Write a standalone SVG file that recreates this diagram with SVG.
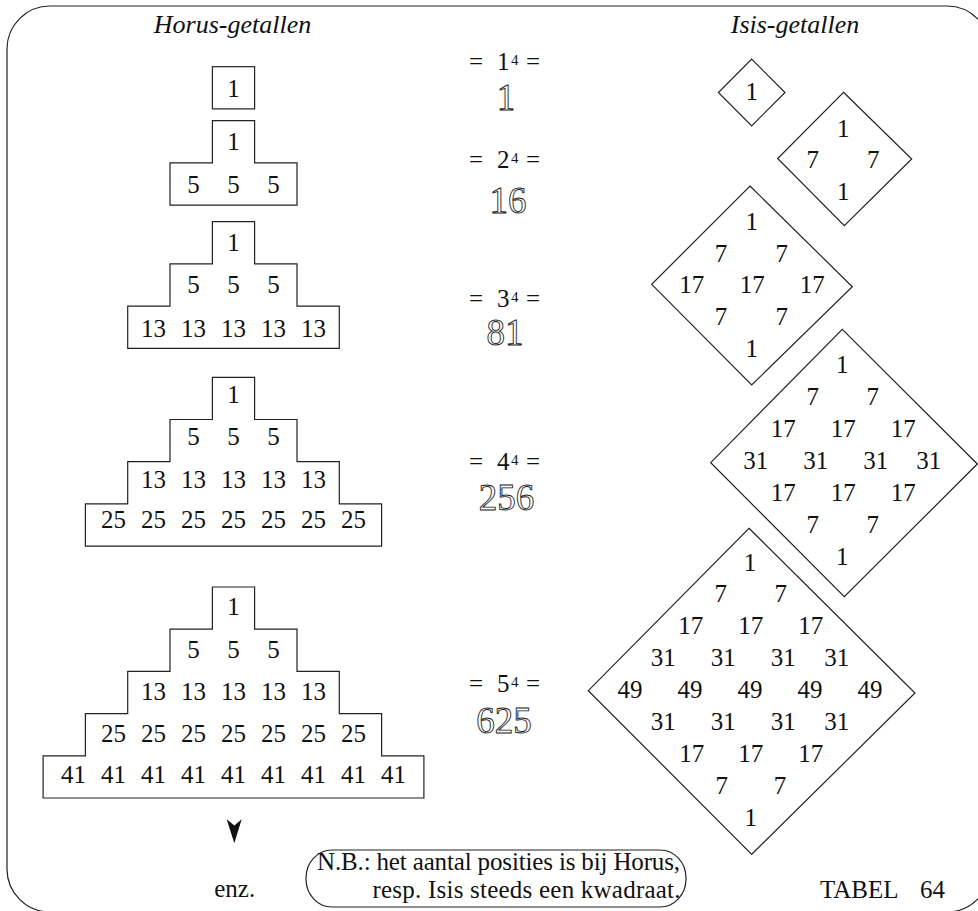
<svg xmlns="http://www.w3.org/2000/svg" width="978" height="911" viewBox="0 0 978 911">
<style>
.ln{fill:none;stroke:#222;stroke-width:1.2}
.t{font-family:"Liberation Serif","Times New Roman",serif;font-size:25px;fill:#111}
.c{text-anchor:middle}
.it{font-style:italic;font-size:26px}
.o{font-family:"Liberation Serif","Times New Roman",serif;font-size:37px;fill:#fff;stroke:#222;stroke-width:0.9;text-anchor:middle}
.sup{font-size:15px}
</style>
<rect id="frame" class="ln" x="7" y="6" width="983" height="906" rx="43" ry="43"/>
<g id="titles">
<text class="t it c" x="232.5" y="33">Horus-getallen</text>
<text class="t it c" x="795" y="33">Isis-getallen</text>
</g>
<g id="horus1">
<rect class="ln" x="212.4" y="66.7" width="42.2" height="42.2"/>
<text class="t c" x="233.5" y="96.7">1</text>
</g>
<g id="horus2">
<path class="ln" d="M212.4,120.7 H254.6 V162.9 H297 V205.1 H170 V162.9 H212.4 Z"/>
<g class="t c">
<text x="233.5" y="150">1</text>
<text x="193.5" y="193.3">5</text><text x="233.5" y="193.3">5</text><text x="273.5" y="193.3">5</text>
</g>
</g>
<g id="horus3">
<path class="ln" d="M212.4,221.7 H254.6 V263.9 H297 V306.1 H339.3 V348.3 H127.7 V306.1 H170 V263.9 H212.4 Z"/>
<g class="t c">
<text x="233.5" y="251">1</text>
<text x="193.5" y="293.3">5</text><text x="233.5" y="293.3">5</text><text x="273.5" y="293.3">5</text>
<text x="153.5" y="336.7">13</text><text x="193.5" y="336.7">13</text><text x="233.5" y="336.7">13</text><text x="273.5" y="336.7">13</text><text x="313.5" y="336.7">13</text>
</g>
</g>
<g id="horus4">
<path class="ln" d="M212.4,377.3 H254.6 V419.5 H297 V461.7 H339.3 V503.9 H381.6 V546.1 H85.4 V503.9 H127.7 V461.7 H170 V419.5 H212.4 Z"/>
<g class="t c">
<text x="233.5" y="403.3">1</text>
<text x="193.5" y="445">5</text><text x="233.5" y="445">5</text><text x="273.5" y="445">5</text>
<text x="153.5" y="488.3">13</text><text x="193.5" y="488.3">13</text><text x="233.5" y="488.3">13</text><text x="273.5" y="488.3">13</text><text x="313.5" y="488.3">13</text>
<text x="113.5" y="528.3">25</text><text x="153.5" y="528.3">25</text><text x="193.5" y="528.3">25</text><text x="233.5" y="528.3">25</text><text x="273.5" y="528.3">25</text><text x="313.5" y="528.3">25</text><text x="353.5" y="528.3">25</text>
</g>
</g>
<g id="horus5">
<path class="ln" d="M212.4,587 H254.6 V629.2 H297 V671.4 H339.3 V713.6 H381.6 V755.8 H423.9 V798 H43.1 V755.8 H85.4 V713.6 H127.7 V671.4 H170 V629.2 H212.4 Z"/>
<g class="t c">
<text x="233.5" y="615">1</text>
<text x="193.5" y="658.3">5</text><text x="233.5" y="658.3">5</text><text x="273.5" y="658.3">5</text>
<text x="153.5" y="700">13</text><text x="193.5" y="700">13</text><text x="233.5" y="700">13</text><text x="273.5" y="700">13</text><text x="313.5" y="700">13</text>
<text x="113.5" y="741.7">25</text><text x="153.5" y="741.7">25</text><text x="193.5" y="741.7">25</text><text x="233.5" y="741.7">25</text><text x="273.5" y="741.7">25</text><text x="313.5" y="741.7">25</text><text x="353.5" y="741.7">25</text>
<text x="73.5" y="783.3">41</text><text x="113.5" y="783.3">41</text><text x="153.5" y="783.3">41</text><text x="193.5" y="783.3">41</text><text x="233.5" y="783.3">41</text><text x="273.5" y="783.3">41</text><text x="313.5" y="783.3">41</text><text x="353.5" y="783.3">41</text><text x="393.5" y="783.3">41</text>
</g>
</g>
<g id="connectors">
<path d="M226.7,819.3 L234.3,825.5 L241.7,819.3 L234.3,843.3 Z" fill="#111"/>
</g>
<text id="enz" class="t c" x="234.7" y="896.7">enz.</text>
<g id="eq1">
<text class="t"><tspan x="469" y="70">=</tspan><tspan x="497" y="70">1</tspan><tspan class="sup" x="511" y="65">4</tspan><tspan x="526" y="70">=</tspan></text>
<text class="o" x="506" y="110">1</text>
</g>
<g id="eq2">
<text class="t"><tspan x="469" y="168.3">=</tspan><tspan x="497" y="168.3">2</tspan><tspan class="sup" x="511" y="163.3">4</tspan><tspan x="526" y="168.3">=</tspan></text>
<text class="o" x="508" y="212.7">16</text>
</g>
<g id="eq3">
<text class="t"><tspan x="469" y="306.7">=</tspan><tspan x="497" y="306.7">3</tspan><tspan class="sup" x="511" y="301.7">4</tspan><tspan x="526" y="306.7">=</tspan></text>
<text class="o" x="505" y="345">81</text>
</g>
<g id="eq4">
<text class="t"><tspan x="469" y="470">=</tspan><tspan x="497" y="470">4</tspan><tspan class="sup" x="511" y="465">4</tspan><tspan x="526" y="470">=</tspan></text>
<text class="o" x="506.5" y="510">256</text>
</g>
<g id="eq5">
<text class="t"><tspan x="469" y="691.7">=</tspan><tspan x="497" y="691.7">5</tspan><tspan class="sup" x="511" y="686.7">4</tspan><tspan x="526" y="691.7">=</tspan></text>
<text class="o" x="504" y="733">625</text>
</g>
<g id="isis1">
<polygon class="ln" points="751.7,59.2 785,92.5 751.7,125.8 718.4,92.5"/>
<text class="t c" x="751.7" y="100">1</text>
</g>
<g id="isis2">
<polygon class="ln" points="843.5,92.3 911.7,159 844.3,225.7 777.7,158.5"/>
<g class="t c">
<text x="843.3" y="136.7">1</text>
<text x="812.7" y="168.3">7</text><text x="873.3" y="168.3">7</text>
<text x="843.3" y="200">1</text>
</g>
</g>
<g id="isis3">
<polygon class="ln" points="750,186 852.3,286.7 751.7,385 651.7,284.3"/>
<g class="t c">
<text x="751.7" y="230">1</text>
<text x="721" y="261.7">7</text><text x="781.7" y="261.7">7</text>
<text x="691.7" y="293.3">17</text><text x="752.3" y="293.3">17</text><text x="812.3" y="293.3">17</text>
<text x="721" y="325">7</text><text x="781.7" y="325">7</text>
<text x="751.7" y="356.7">1</text>
</g>
</g>
<g id="isis4">
<polygon class="ln" points="842.3,329.3 977.3,464 844.3,596.7 710.7,462.7"/>
<g class="t c">
<text x="842.3" y="373">1</text>
<text x="812.7" y="405">7</text><text x="872.7" y="405">7</text>
<text x="783.3" y="437">17</text><text x="843.3" y="437">17</text><text x="903.3" y="437">17</text>
<text x="755.7" y="469">31</text><text x="815.7" y="469">31</text><text x="875.7" y="469">31</text><text x="928.7" y="469">31</text>
<text x="783.3" y="501">17</text><text x="843.3" y="501">17</text><text x="903.3" y="501">17</text>
<text x="812.7" y="533.3">7</text><text x="872.7" y="533.3">7</text>
<text x="842.3" y="565.3">1</text>
</g>
</g>
<g id="isis5">
<polygon class="ln" points="749,528.3 915,693 751.7,854.3 588.3,690.7"/>
<g class="t c">
<text x="750" y="570.5">1</text>
<text x="720.7" y="602">7</text><text x="780.7" y="602">7</text>
<text x="690.7" y="634">17</text><text x="750.7" y="634">17</text><text x="810.7" y="634">17</text>
<text x="663.3" y="666">31</text><text x="723.3" y="666">31</text><text x="783.3" y="666">31</text><text x="836.7" y="666">31</text>
<text x="630" y="698">49</text><text x="690" y="698">49</text><text x="750" y="698">49</text><text x="810" y="698">49</text><text x="870" y="698">49</text>
<text x="663.3" y="730">31</text><text x="723.3" y="730">31</text><text x="783.3" y="730">31</text><text x="836.7" y="730">31</text>
<text x="691.7" y="762">17</text><text x="750.7" y="762">17</text><text x="810.7" y="762">17</text>
<text x="721.7" y="793.5">7</text><text x="780" y="793.5">7</text>
<text x="750.7" y="826">1</text>
</g>
</g>
<g id="note">
<rect class="ln" x="306" y="850" width="380" height="57" rx="26" ry="28"/>
<text class="t" x="317" y="870" textLength="363">N.B.: het aantal posities is bij Horus,</text>
<text class="t" x="372.5" y="897.7" textLength="308">resp. Isis steeds een kwadraat.</text>
</g>
<text id="tabel" class="t"><tspan x="820" y="898.3">TABEL</tspan><tspan x="920" y="898.3">64</tspan></text>
</svg>
